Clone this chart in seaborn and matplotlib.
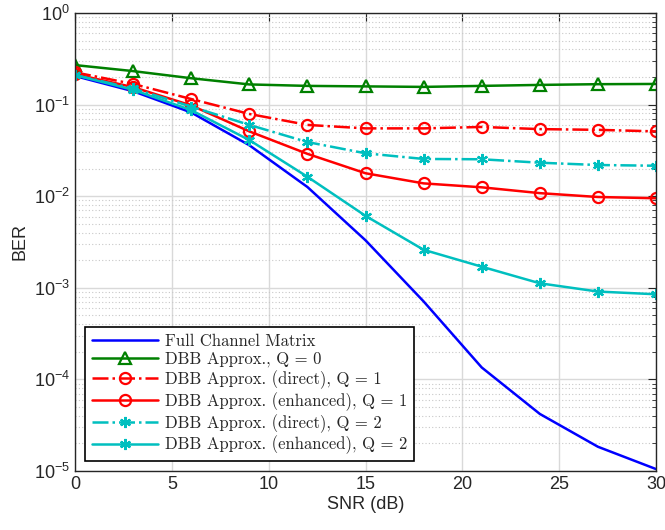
import numpy as np
import pandas as pd
import matplotlib
matplotlib.use("Agg")
import matplotlib.pyplot as plt
import seaborn as sns

# data
snr = [0, 3, 6, 9, 12, 15, 18, 21, 24, 27, 30]
ber_full = [0.205, 0.14, 0.082, 0.036, 0.0126, 0.0033, 0.00071, 1.35e-4, 4.2e-5, 1.84e-5, 1.05e-5]
ber_q0 = [0.27, 0.232, 0.194, 0.166, 0.16, 0.158, 0.156, 0.16, 0.164, 0.167, 0.168]
ber_q1_direct = [0.225, 0.168, 0.115, 0.079, 0.06, 0.055, 0.055, 0.057, 0.054, 0.053, 0.051]
ber_q1_enh = [0.215, 0.155, 0.098, 0.051, 0.029, 0.0178, 0.0138, 0.0125, 0.0108, 0.0098, 0.0095]
ber_q2_direct = [0.21, 0.15, 0.095, 0.06, 0.039, 0.0294, 0.0255, 0.0253, 0.0232, 0.0219, 0.0215]
ber_q2_enh = [0.21, 0.145, 0.087, 0.041, 0.0163, 0.0061, 0.0026, 0.0017, 0.00112, 0.00091, 0.00085]

labels = ["Full Channel Matrix",
          "DBB Approx., Q = 0",
          "DBB Approx. (direct), Q = 1",
          "DBB Approx. (enhanced), Q = 1",
          "DBB Approx. (direct), Q = 2",
          "DBB Approx. (enhanced), Q = 2"]
series = [ber_full, ber_q0, ber_q1_direct, ber_q1_enh, ber_q2_direct, ber_q2_enh]

# style per curve (MATLAB-like)
styles = [
    dict(color=(0, 0, 1), linestyle="-", marker=None),
    dict(color=(0, 0.5, 0), linestyle="-", marker="^"),
    dict(color=(1, 0, 0), linestyle="-.", marker="o"),
    dict(color=(1, 0, 0), linestyle="-", marker="o"),
    dict(color=(0, 0.75, 0.75), linestyle="-.", marker=(6, 2, 0)),
    dict(color=(0, 0.75, 0.75), linestyle="-", marker=(6, 2, 0)),
]

df = pd.DataFrame({"SNR": snr * len(labels),
                   "BER": np.concatenate(series),
                   "curve": np.repeat(labels, len(snr))})

sns.set_style("white")
plt.rcParams["font.family"] = ["Liberation Sans", "DejaVu Sans"]
plt.rcParams["mathtext.fontset"] = "custom"
plt.rcParams["mathtext.rm"] = "Liberation Sans"
plt.rcParams["mathtext.it"] = "Liberation Sans:italic"

fig = plt.figure(figsize=(6.65, 5.3), dpi=100)
ax = fig.add_axes([0.1128, 0.1113, 0.8737, 0.8642])

for lab, st in zip(labels, styles):
    sub = df[df["curve"] == lab]
    kw = dict(color=st["color"], linestyle=st["linestyle"], linewidth=1.8)
    if st["marker"] is not None:
        kw.update(marker=st["marker"], markersize=8, markerfacecolor="none",
                  markeredgecolor=st["color"], markeredgewidth=1.6)
    sns.lineplot(data=sub, x="SNR", y="BER", ax=ax, label=lab, **kw)

ax.set_yscale("log")
ax.set_xlim(0, 30)
ax.set_ylim(1e-5, 1)
ax.set_xticks([0, 5, 10, 15, 20, 25, 30])
ax.set_yticks([1e-5, 1e-4, 1e-3, 1e-2, 1e-1, 1])

ax.grid(True, which="major", color="#d9d9d9", linewidth=1.0, linestyle="-")
ax.grid(True, which="minor", axis="y", color="#c8c8c8", linewidth=0.8, linestyle=(0, (1, 2)))
ax.set_axisbelow(True)

ax.tick_params(which="both", direction="in", top=True, right=True, labelsize=13, colors="#262626")
ax.tick_params(which="major", length=6)
ax.tick_params(which="minor", length=3)
ax.tick_params(axis="x", which="minor", bottom=False, top=False)
for sp in ax.spines.values():
    sp.set_color("#262626")
    sp.set_linewidth(1.0)

ax.set_xlabel("SNR (dB)", fontsize=13, color="#262626", labelpad=2)
ax.set_ylabel("BER", fontsize=13, color="#262626", labelpad=4)

leg = ax.legend(loc="lower left", prop={"family": "cmr10", "size": 12},
                handlelength=4.0, labelspacing=0.18, borderaxespad=0.6,
                handletextpad=0.4, fancybox=False, framealpha=1,
                edgecolor="black", borderpad=0.4)
leg.get_frame().set_linewidth(1.2)

fig.savefig("out.png", dpi=100)
